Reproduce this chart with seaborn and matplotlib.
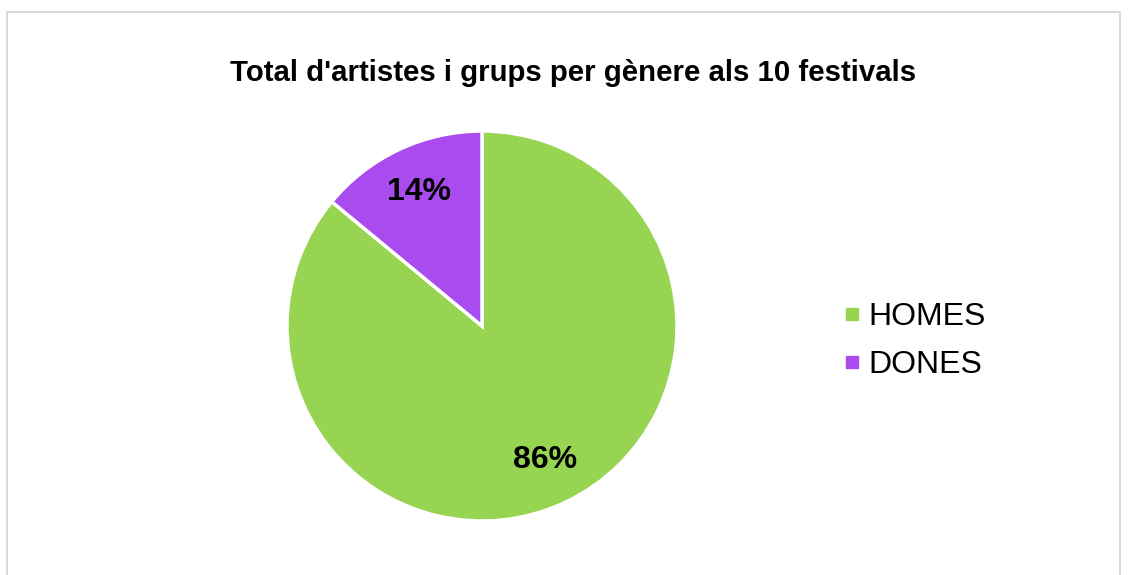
import matplotlib
matplotlib.use("Agg")
import matplotlib.pyplot as plt
from matplotlib.lines import Line2D
from matplotlib.patches import Rectangle
import seaborn as sns

# data
labels = ["HOMES", "DONES"]
values = [86, 14]
colors = ["#96d452", "#aa4bf0"]
title = "Total d'artistes i grups per gènere als 10 festivals"

sns.set_theme(style="white")
plt.rcParams['font.family'] = ['Liberation Sans', 'DejaVu Sans']

W, H = 1129, 575
fig = plt.figure(figsize=(W / 100, H / 100), dpi=100)

# pie axes: centre (482, 326), radius 195 px
cx, cy, r = 482, 326, 195
ax = fig.add_axes([(cx - r) / W, (H - cy - r) / H, 2 * r / W, 2 * r / H])
wedges, texts, autotexts = ax.pie(
    values, colors=colors, startangle=90, counterclock=False,
    autopct=lambda p: f"{p:.0f}%", pctdistance=0.76,
    wedgeprops=dict(edgecolor="white", linewidth=2.5),
    textprops=dict(fontsize=23, fontweight="bold", color="black"),
)
ax.set_xlim(-1, 1)
ax.set_ylim(-1, 1)
ax.set_aspect("equal")

fig.text(573 / W, 1 - 73 / H, title, ha="center", va="center",
         fontsize=21.2, fontweight="bold", color="black")

handles = [Line2D([], [], marker="s", linestyle="none", markersize=8,
                  markerfacecolor=c, markeredgecolor=c) for c in colors]
leg = fig.legend(handles, labels, loc="center left",
                 bbox_to_anchor=(830 / W, 1 - 341 / H), frameon=False,
                 fontsize=23, handlelength=0.55, handletextpad=0.25,
                 labelspacing=0.55, borderaxespad=0)
for t in leg.get_texts():
    t.set_color("black")

# outer border of the chart card
fig.patches.append(Rectangle((6.5 / W, -0.05), (1120 - 6.5) / W, 1.05 - 11.5 / H,
                             transform=fig.transFigure, fill=False,
                             edgecolor="#d9d9d9", linewidth=1.5))

fig.savefig("out.png", dpi=100, facecolor="white")
